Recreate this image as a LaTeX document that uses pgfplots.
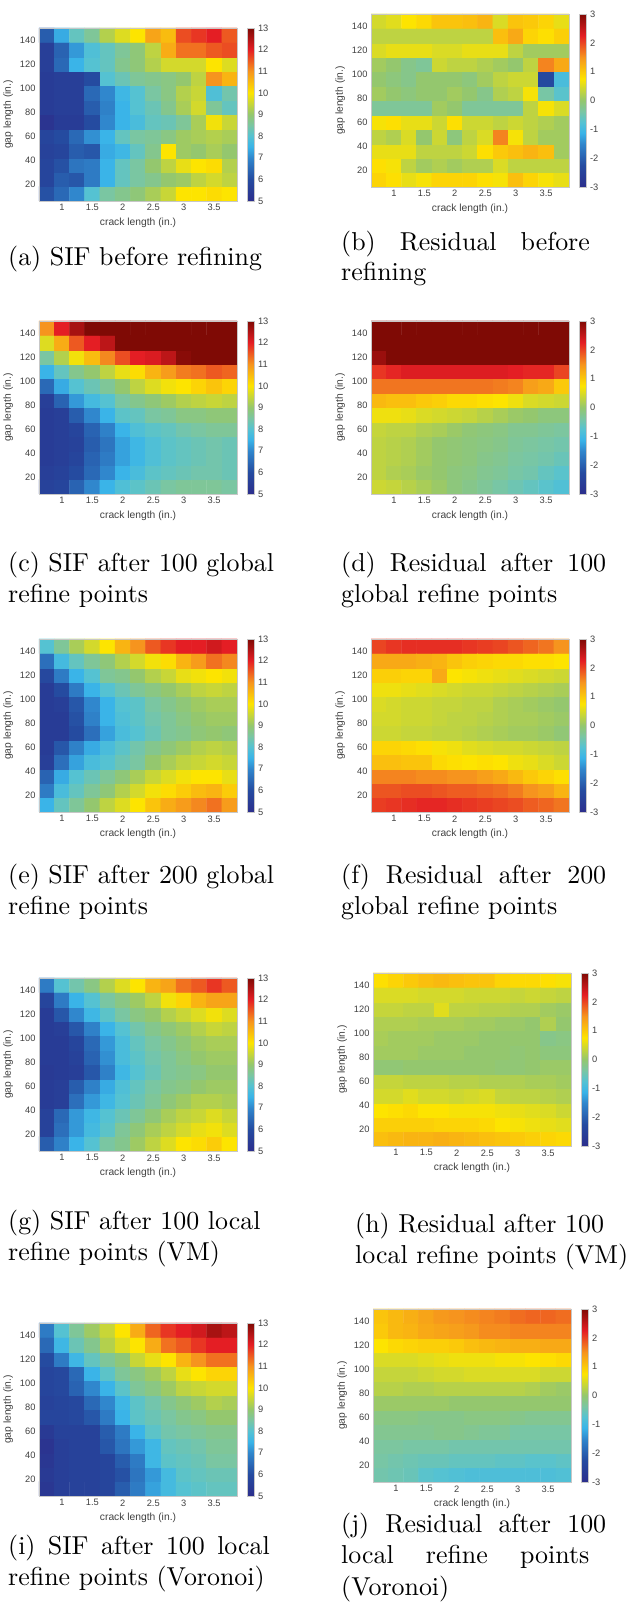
\documentclass[border=0pt]{standalone}
\usepackage{fontspec}
\usepackage{graphicx}
\usepackage{pgfplots}
\usepackage{pgfplotstable}
\pgfplotsset{compat=1.18}
\newfontfamily\arial{Liberation Sans}
\definecolor{tickgray}{RGB}{64,64,64}
\newcommand\tickfont{\arial\fontsize{9.3bp}{11bp}\selectfont}
\newcommand\labfont{\arial\fontsize{10.3bp}{12bp}\selectfont}
\newcommand\cp[1]{\scalebox{2.6}{#1}}
\pgfplotsset{
  /pgf/number format/assume math mode=true,
  colormap={sjet}{rgb255(0)=(44,46,140) rgb255(2)=(37,75,160) rgb255(4)=(48,135,205) rgb255(5)=(58,180,232) rgb255(6)=(85,194,210) rgb255(7)=(122,198,162) rgb255(8)=(148,199,110) rgb255(9)=(200,214,55) rgb255(10)=(253,228,0) rgb255(12)=(246,148,30) rgb255(14)=(228,30,36) rgb255(16)=(127,10,5)},
  hm/.style={
    scale only axis, width=198bp, height=173bp, anchor=south west,
    xmin=0.625, xmax=3.875, ymin=6, ymax=150, enlargelimits=false,
    xtick={1,1.5,2,2.5,3,3.5}, ytick={20,40,60,80,100,120,140},
    tick style={draw=none}, major tick length=0pt,
    axis line style={draw=black!22, line width=0.5pt},
    axis on top,
    tick label style={font=\tickfont, text=tickgray},
    xlabel={crack length (in.)}, ylabel={gap length (in.)},
    label style={font=\labfont, text=tickgray},
    colormap name=sjet, colorbar,
    colorbar style={at={(parent axis.north east)}, anchor=north west, xshift=2bp, width=7bp,
      tick style={draw=none}, major tick length=0pt, axis line style={draw=black!22},
      yticklabel style={font=\tickfont, text=tickgray}},
  },
  sif/.style={hm, point meta min=5, point meta max=13, colorbar style={ytick={5,6,7,8,9,10,11,12,13}}},
  res/.style={hm, point meta min=-3, point meta max=3, colorbar style={ytick={-3,-2,-1,0,1,2,3}}},
  hmp/.style={matrix plot*, mesh/cols=13, point meta=explicit},
}
% ---------------- (a)
\pgfplotstableread[row sep=\\]{
x y c\\
0.75 12 6.1\\ 1 12 6.5\\ 1.25 12 7.0\\ 1.5 12 8.0\\ 1.75 12 8.5\\ 2 12 8.7\\ 2.25 12 8.9\\ 2.5 12 9.2\\ 2.75 12 9.5\\ 3 12 10.0\\ 3.25 12 10.0\\ 3.5 12 10.1\\ 3.75 12 10.0\\
0.75 24 5.8\\ 1 24 6.3\\ 1.25 24 6.2\\ 1.5 24 6.8\\ 1.75 24 7.5\\ 2 24 8.2\\ 2.25 24 8.5\\ 2.5 24 8.7\\ 2.75 24 9.0\\ 3 24 9.1\\ 3.25 24 9.4\\ 3.5 24 9.6\\ 3.75 24 9.4\\
0.75 36 5.8\\ 1 36 6.1\\ 1.25 36 6.7\\ 1.5 36 6.8\\ 1.75 36 7.5\\ 2 36 8.2\\ 2.25 36 8.5\\ 2.5 36 9.0\\ 2.75 36 9.4\\ 3 36 9.8\\ 3.25 36 10.0\\ 3.5 36 10.1\\ 3.75 36 9.3\\
0.75 48 5.7\\ 1 48 5.8\\ 1.25 48 6.3\\ 1.5 48 6.2\\ 1.75 48 7.4\\ 2 48 7.6\\ 2.25 48 8.2\\ 2.5 48 8.7\\ 2.75 48 10.0\\ 3 48 9.1\\ 3.25 48 9.0\\ 3.5 48 9.2\\ 3.75 48 9.0\\
0.75 60 5.8\\ 1 60 6.0\\ 1.25 60 6.5\\ 1.5 60 7.1\\ 1.75 60 7.5\\ 2 60 8.2\\ 2.25 60 8.5\\ 2.5 60 8.6\\ 2.75 60 8.8\\ 3 60 9.1\\ 3.25 60 9.2\\ 3.5 60 9.3\\ 3.75 60 9.2\\
0.75 72 5.2\\ 1 72 5.5\\ 1.25 72 5.5\\ 1.5 72 6.0\\ 1.75 72 7.0\\ 2 72 7.5\\ 2.25 72 7.8\\ 2.5 72 8.2\\ 2.75 72 8.3\\ 3 72 8.6\\ 3.25 72 9.2\\ 3.5 72 9.9\\ 3.75 72 9.5\\
0.75 84 5.5\\ 1 84 5.6\\ 1.25 84 5.6\\ 1.5 84 6.3\\ 1.75 84 6.9\\ 2 84 7.5\\ 2.25 84 8.0\\ 2.5 84 8.3\\ 2.75 84 8.7\\ 3 84 9.2\\ 3.25 84 9.6\\ 3.5 84 8.6\\ 3.75 84 8.2\\
0.75 96 5.5\\ 1 96 5.6\\ 1.25 96 5.6\\ 1.5 96 6.5\\ 1.75 96 7.0\\ 2 96 7.6\\ 2.25 96 8.0\\ 2.5 96 8.5\\ 2.75 96 8.8\\ 3 96 9.3\\ 3.25 96 9.5\\ 3.5 96 7.9\\ 3.75 96 8.4\\
0.75 108 5.5\\ 1 108 5.6\\ 1.25 108 5.6\\ 1.5 108 6.0\\ 1.75 108 8.0\\ 2 108 8.3\\ 2.25 108 8.6\\ 2.5 108 8.7\\ 2.75 108 8.8\\ 3 108 9.0\\ 3.25 108 9.4\\ 3.5 108 11.0\\ 3.75 108 10.6\\
0.75 120 5.6\\ 1 120 6.5\\ 1.25 120 7.5\\ 1.5 120 8.0\\ 1.75 120 8.2\\ 2 120 8.7\\ 2.25 120 8.9\\ 2.5 120 9.3\\ 2.75 120 9.6\\ 3 120 9.6\\ 3.25 120 9.6\\ 3.5 120 10.0\\ 3.75 120 9.7\\
0.75 132 5.6\\ 1 132 6.4\\ 1.25 132 7.2\\ 1.5 132 7.9\\ 1.75 132 8.2\\ 2 132 8.6\\ 2.25 132 8.9\\ 2.5 132 9.4\\ 2.75 132 10.7\\ 3 132 11.3\\ 3.25 132 11.3\\ 3.5 132 11.5\\ 3.75 132 11.6\\
0.75 144 6.3\\ 1 144 7.4\\ 1.25 144 8.2\\ 1.5 144 8.6\\ 1.75 144 9.3\\ 2 144 9.7\\ 2.25 144 10.0\\ 2.5 144 10.8\\ 2.75 144 10.5\\ 3 144 11.6\\ 3.25 144 11.8\\ 3.5 144 12.0\\ 3.75 144 11.5\\
}\tA
% ---------------- (b)
\pgfplotstableread[row sep=\\]{
x y c\\
0.75 12 0.9\\ 1 12 0.8\\ 1.25 12 0.6\\ 1.5 12 0.7\\ 1.75 12 0.9\\ 2 12 0.9\\ 2.25 12 0.9\\ 2.5 12 0.8\\ 2.75 12 0.7\\ 3 12 1.1\\ 3.25 12 0.9\\ 3.5 12 0.7\\ 3.75 12 0.6\\
0.75 24 0.8\\ 1 24 0.7\\ 1.25 24 0.3\\ 1.5 24 0.1\\ 1.75 24 0.2\\ 2 24 0.1\\ 2.25 24 0.2\\ 2.5 24 0.2\\ 2.75 24 0.5\\ 3 24 0.3\\ 3.25 24 0.3\\ 3.5 24 0.3\\ 3.75 24 0.3\\
0.75 36 0.6\\ 1 36 0.6\\ 1.25 36 0.6\\ 1.5 36 0.3\\ 1.75 36 0.3\\ 2 36 0.3\\ 2.25 36 0.4\\ 2.5 36 0.8\\ 2.75 36 1.0\\ 3 36 1.1\\ 3.25 36 1.2\\ 3.5 36 1.1\\ 3.75 36 0.1\\
0.75 48 0.3\\ 1 48 0.2\\ 1.25 48 0.5\\ 1.5 48 0.0\\ 1.75 48 0.4\\ 2 48 -0.1\\ 2.25 48 0.3\\ 2.5 48 0.5\\ 2.75 48 1.6\\ 3 48 0.7\\ 3.25 48 0.3\\ 3.5 48 0.1\\ 3.75 48 0.1\\
0.75 60 0.7\\ 1 60 0.8\\ 1.25 60 0.6\\ 1.5 60 0.6\\ 1.75 60 0.4\\ 2 60 0.8\\ 2.25 60 0.4\\ 2.5 60 0.4\\ 2.75 60 0.3\\ 3 60 0.4\\ 3.25 60 0.3\\ 3.5 60 0.2\\ 3.75 60 0.1\\
0.75 72 -0.3\\ 1 72 -0.3\\ 1.25 72 -0.3\\ 1.5 72 -0.3\\ 1.75 72 0.1\\ 2 72 0.0\\ 2.25 72 -0.3\\ 2.5 72 -0.3\\ 2.75 72 -0.3\\ 3 72 -0.3\\ 3.25 72 0.3\\ 3.5 72 0.7\\ 3.75 72 0.5\\
0.75 84 0.1\\ 1 84 0.0\\ 1.25 84 -0.1\\ 1.5 84 0.0\\ 1.75 84 0.0\\ 2 84 0.1\\ 2.25 84 0.0\\ 2.5 84 -0.2\\ 2.75 84 0.2\\ 3 84 0.3\\ 3.25 84 0.7\\ 3.5 84 -0.4\\ 3.75 84 -0.7\\
0.75 96 0.0\\ 1 96 -0.1\\ 1.25 96 -0.2\\ 1.5 96 0.0\\ 1.75 96 0.0\\ 2 96 0.0\\ 2.25 96 -0.1\\ 2.5 96 0.1\\ 2.75 96 0.3\\ 3 96 0.4\\ 3.25 96 0.4\\ 3.5 96 -2.3\\ 3.75 96 -0.9\\
0.75 108 0.1\\ 1 108 0.0\\ 1.25 108 -0.2\\ 1.5 108 -0.3\\ 1.75 108 0.4\\ 2 108 0.3\\ 2.25 108 0.3\\ 2.5 108 0.2\\ 2.75 108 0.1\\ 3 108 0.0\\ 3.25 108 0.3\\ 3.5 108 1.6\\ 3.75 108 1.3\\
0.75 120 0.5\\ 1 120 0.6\\ 1.25 120 0.6\\ 1.5 120 0.6\\ 1.75 120 0.5\\ 2 120 0.5\\ 2.25 120 0.6\\ 2.5 120 0.6\\ 2.75 120 0.6\\ 3 120 0.3\\ 3.25 120 0.1\\ 3.5 120 0.1\\ 3.75 120 0.1\\
0.75 132 0.3\\ 1 132 0.3\\ 1.25 132 0.3\\ 1.5 132 0.3\\ 1.75 132 0.3\\ 2 132 0.3\\ 2.25 132 0.3\\ 2.5 132 0.3\\ 2.75 132 1.1\\ 3 132 1.3\\ 3.25 132 0.9\\ 3.5 132 0.8\\ 3.75 132 0.95\\
0.75 144 0.45\\ 1 144 0.55\\ 1.25 144 0.75\\ 1.5 144 0.85\\ 1.75 144 1.05\\ 2 144 1.05\\ 2.25 144 1.1\\ 2.5 144 1.2\\ 2.75 144 0.5\\ 3 144 1.05\\ 3.25 144 1.0\\ 3.5 144 0.9\\ 3.75 144 0.6\\
}\tB
% ---------------- (c)
\pgfplotstableread[row sep=\\]{
x y c\\
0.75 12 5.7\\ 1 12 5.8\\ 1.25 12 6.4\\ 1.5 12 7.0\\ 1.75 12 7.5\\ 2 12 7.9\\ 2.25 12 8.1\\ 2.5 12 8.3\\ 2.75 12 8.5\\ 3 12 8.6\\ 3.25 12 8.6\\ 3.5 12 8.6\\ 3.75 12 8.5\\
0.75 24 5.6\\ 1 24 5.7\\ 1.25 24 6.0\\ 1.5 24 6.5\\ 1.75 24 7.0\\ 2 24 7.5\\ 2.25 24 7.8\\ 2.5 24 8.1\\ 2.75 24 8.2\\ 3 24 8.3\\ 3.25 24 8.4\\ 3.5 24 8.4\\ 3.75 24 8.3\\
0.75 36 5.5\\ 1 36 5.6\\ 1.25 36 5.8\\ 1.5 36 6.4\\ 1.75 36 6.8\\ 2 36 7.3\\ 2.25 36 7.6\\ 2.5 36 7.9\\ 2.75 36 8.1\\ 3 36 8.2\\ 3.25 36 8.3\\ 3.5 36 8.4\\ 3.75 36 8.3\\
0.75 48 5.5\\ 1 48 5.6\\ 1.25 48 5.7\\ 1.5 48 6.3\\ 1.75 48 6.7\\ 2 48 7.3\\ 2.25 48 7.6\\ 2.5 48 7.9\\ 2.75 48 8.1\\ 3 48 8.2\\ 3.25 48 8.3\\ 3.5 48 8.4\\ 3.75 48 8.3\\
0.75 60 5.5\\ 1 60 5.6\\ 1.25 60 5.8\\ 1.5 60 6.4\\ 1.75 60 6.9\\ 2 60 7.5\\ 2.25 60 7.9\\ 2.5 60 8.1\\ 2.75 60 8.2\\ 3 60 8.4\\ 3.25 60 8.5\\ 3.5 60 8.6\\ 3.75 60 8.6\\
0.75 72 5.5\\ 1 72 5.6\\ 1.25 72 6.3\\ 1.5 72 7.0\\ 1.75 72 7.5\\ 2 72 8.1\\ 2.25 72 8.2\\ 2.5 72 8.5\\ 2.75 72 8.6\\ 3 72 8.8\\ 3.25 72 8.8\\ 3.5 72 8.9\\ 3.75 72 8.9\\
0.75 84 5.6\\ 1 84 6.4\\ 1.25 84 7.2\\ 1.5 84 7.7\\ 1.75 84 8.0\\ 2 84 8.5\\ 2.25 84 8.7\\ 2.5 84 8.9\\ 2.75 84 9.1\\ 3 84 9.3\\ 3.25 84 9.4\\ 3.5 84 9.5\\ 3.75 84 9.4\\
0.75 96 6.5\\ 1 96 7.4\\ 1.25 96 8.0\\ 1.5 96 8.3\\ 1.75 96 8.6\\ 2 96 9.0\\ 2.25 96 9.4\\ 2.5 96 9.7\\ 2.75 96 9.9\\ 3 96 10.0\\ 3.25 96 10.2\\ 3.5 96 10.4\\ 3.75 96 10.2\\
0.75 108 7.5\\ 1 108 8.2\\ 1.25 108 8.7\\ 1.5 108 9.0\\ 1.75 108 9.4\\ 2 108 9.8\\ 2.25 108 10.1\\ 2.5 108 10.6\\ 2.75 108 10.9\\ 3 108 11.2\\ 3.25 108 11.3\\ 3.5 108 11.5\\ 3.75 108 11.4\\
0.75 120 8.5\\ 1 120 9.3\\ 1.25 120 9.9\\ 1.5 120 10.5\\ 1.75 120 11.1\\ 2 120 11.6\\ 2.25 120 12.0\\ 2.5 120 12.1\\ 2.75 120 12.4\\ 3 120 12.9\\ 3.25 120 13.2\\ 3.5 120 13.2\\ 3.75 120 13.2\\
0.75 132 9.7\\ 1 132 10.7\\ 1.25 132 11.5\\ 1.5 132 12.0\\ 1.75 132 12.4\\ 2 132 13.2\\ 2.25 132 13.2\\ 2.5 132 13.2\\ 2.75 132 13.2\\ 3 132 13.2\\ 3.25 132 13.2\\ 3.5 132 13.2\\ 3.75 132 13.2\\
0.75 144 11.0\\ 1 144 12.0\\ 1.25 144 12.6\\ 1.5 144 13.2\\ 1.75 144 13.2\\ 2 144 13.2\\ 2.25 144 13.2\\ 2.5 144 13.2\\ 2.75 144 13.2\\ 3 144 13.2\\ 3.25 144 13.2\\ 3.5 144 13.2\\ 3.75 144 13.2\\
}\tC
% ---------------- (d)
\pgfplotstableread[row sep=\\]{
x y c\\
0.75 12 0.4\\ 1 12 0.35\\ 1.25 12 0.25\\ 1.5 12 0.15\\ 1.75 12 0.05\\ 2 12 -0.1\\ 2.25 12 -0.2\\ 2.5 12 -0.3\\ 2.75 12 -0.4\\ 3 12 -0.5\\ 3.25 12 -0.6\\ 3.5 12 -0.7\\ 3.75 12 -0.8\\
0.75 24 0.3\\ 1 24 0.2\\ 1.25 24 0.15\\ 1.5 24 0.05\\ 1.75 24 0.0\\ 2 24 -0.1\\ 2.25 24 -0.15\\ 2.5 24 -0.25\\ 2.75 24 -0.3\\ 3 24 -0.4\\ 3.25 24 -0.45\\ 3.5 24 -0.6\\ 3.75 24 -0.7\\
0.75 36 0.3\\ 1 36 0.25\\ 1.25 36 0.2\\ 1.5 36 0.1\\ 1.75 36 0.0\\ 2 36 -0.05\\ 2.25 36 -0.1\\ 2.5 36 -0.2\\ 2.75 36 -0.25\\ 3 36 -0.35\\ 3.25 36 -0.4\\ 3.5 36 -0.45\\ 3.75 36 -0.55\\
0.75 48 0.3\\ 1 48 0.25\\ 1.25 48 0.2\\ 1.5 48 0.1\\ 1.75 48 0.0\\ 2 48 -0.05\\ 2.25 48 -0.1\\ 2.5 48 -0.15\\ 2.75 48 -0.2\\ 3 48 -0.3\\ 3.25 48 -0.35\\ 3.5 48 -0.4\\ 3.75 48 -0.45\\
0.75 60 0.35\\ 1 60 0.3\\ 1.25 60 0.3\\ 1.5 60 0.2\\ 1.75 60 0.15\\ 2 60 0.05\\ 2.25 60 -0.05\\ 2.5 60 -0.1\\ 2.75 60 -0.15\\ 3 60 -0.25\\ 3.25 60 -0.25\\ 3.5 60 -0.3\\ 3.75 60 -0.35\\
0.75 72 0.65\\ 1 72 0.65\\ 1.25 72 0.6\\ 1.5 72 0.5\\ 1.75 72 0.45\\ 2 72 0.4\\ 2.25 72 0.35\\ 2.5 72 0.25\\ 2.75 72 0.15\\ 3 72 0.05\\ 3.25 72 0.0\\ 3.5 72 -0.1\\ 3.75 72 -0.1\\
0.75 84 1.15\\ 1 84 1.1\\ 1.25 84 1.1\\ 1.5 84 1.0\\ 1.75 84 0.95\\ 2 84 0.85\\ 2.25 84 0.85\\ 2.5 84 0.8\\ 2.75 84 0.75\\ 3 84 0.65\\ 3.25 84 0.5\\ 3.5 84 0.45\\ 3.75 84 0.4\\
0.75 96 1.7\\ 1 96 1.7\\ 1.25 96 1.7\\ 1.5 96 1.7\\ 1.75 96 1.7\\ 2 96 1.7\\ 2.25 96 1.7\\ 2.5 96 1.7\\ 2.75 96 1.65\\ 3 96 1.6\\ 3.25 96 1.4\\ 3.5 96 1.3\\ 3.75 96 1.0\\
0.75 108 2.1\\ 1 108 2.2\\ 1.25 108 2.3\\ 1.5 108 2.3\\ 1.75 108 2.3\\ 2 108 2.3\\ 2.25 108 2.3\\ 2.5 108 2.3\\ 2.75 108 2.3\\ 3 108 2.25\\ 3.25 108 2.2\\ 3.5 108 2.2\\ 3.75 108 2.0\\
0.75 120 2.8\\ 1 120 3.2\\ 1.25 120 3.2\\ 1.5 120 3.2\\ 1.75 120 3.2\\ 2 120 3.2\\ 2.25 120 3.2\\ 2.5 120 3.2\\ 2.75 120 3.2\\ 3 120 3.2\\ 3.25 120 3.2\\ 3.5 120 3.2\\ 3.75 120 3.2\\
0.75 132 3.2\\ 1 132 3.2\\ 1.25 132 3.2\\ 1.5 132 3.2\\ 1.75 132 3.2\\ 2 132 3.2\\ 2.25 132 3.2\\ 2.5 132 3.2\\ 2.75 132 3.2\\ 3 132 3.2\\ 3.25 132 3.2\\ 3.5 132 3.2\\ 3.75 132 3.2\\
0.75 144 3.2\\ 1 144 3.2\\ 1.25 144 3.2\\ 1.5 144 3.2\\ 1.75 144 3.2\\ 2 144 3.2\\ 2.25 144 3.2\\ 2.5 144 3.2\\ 2.75 144 3.2\\ 3 144 3.2\\ 3.25 144 3.2\\ 3.5 144 3.2\\ 3.75 144 3.2\\
}\tD
% ---------------- (e)
\pgfplotstableread[row sep=\\]{
x y c\\
0.75 12 7.5\\ 1 12 8.2\\ 1.25 12 8.6\\ 1.5 12 9.0\\ 1.75 12 9.4\\ 2 12 9.7\\ 2.25 12 10.0\\ 2.5 12 10.4\\ 2.75 12 10.7\\ 3 12 10.9\\ 3.25 12 11.1\\ 3.5 12 11.3\\ 3.75 12 10.9\\
0.75 24 6.8\\ 1 24 7.8\\ 1.25 24 8.2\\ 1.5 24 8.6\\ 1.75 24 8.9\\ 2 24 9.3\\ 2.25 24 9.6\\ 2.5 24 9.9\\ 2.75 24 10.1\\ 3 24 10.3\\ 3.25 24 10.5\\ 3.5 24 10.6\\ 3.75 24 10.3\\
0.75 36 6.4\\ 1 36 7.4\\ 1.25 36 8.0\\ 1.5 36 8.3\\ 1.75 36 8.6\\ 2 36 8.9\\ 2.25 36 9.2\\ 2.5 36 9.5\\ 2.75 36 9.7\\ 3 36 9.9\\ 3.25 36 10.0\\ 3.5 36 10.0\\ 3.75 36 9.8\\
0.75 48 5.6\\ 1 48 6.6\\ 1.25 48 7.3\\ 1.5 48 7.8\\ 1.75 48 8.0\\ 2 48 8.3\\ 2.25 48 8.5\\ 2.5 48 9.0\\ 2.75 48 9.2\\ 3 48 9.4\\ 3.25 48 9.5\\ 3.5 48 9.6\\ 3.75 48 9.5\\
0.75 60 5.5\\ 1 60 6.2\\ 1.25 60 6.9\\ 1.5 60 7.4\\ 1.75 60 7.8\\ 2 60 8.1\\ 2.25 60 8.4\\ 2.5 60 8.7\\ 2.75 60 8.9\\ 3 60 9.1\\ 3.25 60 9.3\\ 3.5 60 9.4\\ 3.75 60 9.3\\
0.75 72 5.5\\ 1 72 5.5\\ 1.25 72 6.0\\ 1.5 72 6.6\\ 1.75 72 7.3\\ 2 72 7.8\\ 2.25 72 8.0\\ 2.5 72 8.3\\ 2.75 72 8.6\\ 3 72 8.7\\ 3.25 72 8.9\\ 3.5 72 9.0\\ 3.75 72 8.9\\
0.75 84 5.5\\ 1 84 5.5\\ 1.25 84 6.1\\ 1.5 84 6.9\\ 1.75 84 7.5\\ 2 84 7.9\\ 2.25 84 8.1\\ 2.5 84 8.4\\ 2.75 84 8.6\\ 3 84 8.8\\ 3.25 84 9.0\\ 3.5 84 9.1\\ 3.75 84 9.1\\
0.75 96 5.5\\ 1 96 5.6\\ 1.25 96 6.2\\ 1.5 96 7.0\\ 1.75 96 7.5\\ 2 96 8.0\\ 2.25 96 8.1\\ 2.5 96 8.5\\ 2.75 96 8.7\\ 3 96 8.9\\ 3.25 96 9.1\\ 3.5 96 9.2\\ 3.75 96 9.2\\
0.75 108 5.5\\ 1 108 6.0\\ 1.25 108 6.8\\ 1.5 108 7.5\\ 1.75 108 8.0\\ 2 108 8.3\\ 2.25 108 8.6\\ 2.5 108 8.8\\ 2.75 108 9.0\\ 3 108 9.2\\ 3.25 108 9.4\\ 3.5 108 9.5\\ 3.75 108 9.4\\
0.75 120 5.9\\ 1 120 6.8\\ 1.25 120 7.5\\ 1.5 120 8.0\\ 1.75 120 8.6\\ 2 120 8.7\\ 2.25 120 9.0\\ 2.5 120 9.3\\ 2.75 120 9.5\\ 3 120 9.8\\ 3.25 120 9.9\\ 3.5 120 10.0\\ 3.75 120 9.9\\
0.75 132 6.6\\ 1 132 7.7\\ 1.25 132 8.2\\ 1.5 132 8.6\\ 1.75 132 8.9\\ 2 132 9.3\\ 2.25 132 9.6\\ 2.5 132 9.9\\ 2.75 132 10.1\\ 3 132 10.6\\ 3.25 132 10.9\\ 3.5 132 11.3\\ 3.75 132 11.1\\
0.75 144 8.0\\ 1 144 8.6\\ 1.25 144 9.2\\ 1.5 144 9.6\\ 1.75 144 10.0\\ 2 144 10.6\\ 2.25 144 11.0\\ 2.5 144 11.5\\ 2.75 144 11.8\\ 3 144 12.0\\ 3.25 144 12.0\\ 3.5 144 12.2\\ 3.75 144 12.0\\
}\tE
% ---------------- (f)
\pgfplotstableread[row sep=\\]{
x y c\\
0.75 12 2.05\\ 1 12 2.1\\ 1.25 12 2.15\\ 1.5 12 2.2\\ 1.75 12 2.2\\ 2 12 2.15\\ 2.25 12 2.1\\ 2.5 12 2.05\\ 2.75 12 2.0\\ 3 12 1.95\\ 3.25 12 1.85\\ 3.5 12 1.8\\ 3.75 12 1.7\\
0.75 24 1.9\\ 1 24 1.9\\ 1.25 24 1.95\\ 1.5 24 1.95\\ 1.75 24 1.9\\ 2 24 1.85\\ 2.25 24 1.85\\ 2.5 24 1.8\\ 2.75 24 1.75\\ 3 24 1.65\\ 3.25 24 1.5\\ 3.5 24 1.4\\ 3.75 24 1.2\\
0.75 36 1.6\\ 1 36 1.6\\ 1.25 36 1.6\\ 1.5 36 1.55\\ 1.75 36 1.55\\ 2 36 1.5\\ 2.25 36 1.5\\ 2.5 36 1.4\\ 2.75 36 1.3\\ 3 36 1.15\\ 3.25 36 1.0\\ 3.5 36 0.9\\ 3.75 36 0.8\\
0.75 48 1.1\\ 1 48 1.1\\ 1.25 48 1.05\\ 1.5 48 1.05\\ 1.75 48 0.85\\ 2 48 0.8\\ 2.25 48 0.75\\ 2.5 48 0.8\\ 2.75 48 0.75\\ 3 48 0.65\\ 3.25 48 0.6\\ 3.5 48 0.5\\ 3.75 48 0.4\\
0.75 60 0.9\\ 1 60 0.9\\ 1.25 60 0.85\\ 1.5 60 0.8\\ 1.75 60 0.7\\ 2 60 0.65\\ 2.25 60 0.55\\ 2.5 60 0.5\\ 2.75 60 0.45\\ 3 60 0.45\\ 3.25 60 0.4\\ 3.5 60 0.35\\ 3.75 60 0.3\\
0.75 72 0.4\\ 1 72 0.4\\ 1.25 72 0.35\\ 1.5 72 0.35\\ 1.75 72 0.3\\ 2 72 0.3\\ 2.25 72 0.25\\ 2.5 72 0.2\\ 2.75 72 0.15\\ 3 72 0.1\\ 3.25 72 0.1\\ 3.5 72 0.05\\ 3.75 72 -0.05\\
0.75 84 0.45\\ 1 84 0.45\\ 1.25 84 0.4\\ 1.5 84 0.4\\ 1.75 84 0.35\\ 2 84 0.3\\ 2.25 84 0.3\\ 2.5 84 0.25\\ 2.75 84 0.2\\ 3 84 0.15\\ 3.25 84 0.15\\ 3.5 84 0.1\\ 3.75 84 0.05\\
0.75 96 0.5\\ 1 96 0.45\\ 1.25 96 0.4\\ 1.5 96 0.4\\ 1.75 96 0.35\\ 2 96 0.35\\ 2.25 96 0.3\\ 2.5 96 0.3\\ 2.75 96 0.2\\ 3 96 0.15\\ 3.25 96 0.1\\ 3.5 96 0.05\\ 3.75 96 0.0\\
0.75 108 0.65\\ 1 108 0.65\\ 1.25 108 0.6\\ 1.5 108 0.55\\ 1.75 108 0.5\\ 2 108 0.45\\ 2.25 108 0.4\\ 2.5 108 0.4\\ 2.75 108 0.35\\ 3 108 0.3\\ 3.25 108 0.25\\ 3.5 108 0.2\\ 3.75 108 0.15\\
0.75 120 0.95\\ 1 120 0.95\\ 1.25 120 0.9\\ 1.5 120 0.9\\ 1.75 120 1.3\\ 2 120 0.75\\ 2.25 120 0.7\\ 2.5 120 0.65\\ 2.75 120 0.6\\ 3 120 0.55\\ 3.25 120 0.5\\ 3.5 120 0.45\\ 3.75 120 0.4\\
0.75 132 1.3\\ 1 132 1.3\\ 1.25 132 1.3\\ 1.5 132 1.25\\ 1.75 132 1.2\\ 2 132 1.05\\ 2.25 132 0.95\\ 2.5 132 0.9\\ 2.75 132 0.85\\ 3 132 0.85\\ 3.25 132 0.8\\ 3.5 132 0.8\\ 3.75 132 0.75\\
0.75 144 2.0\\ 1 144 2.1\\ 1.25 144 2.15\\ 1.5 144 2.15\\ 1.75 144 2.15\\ 2 144 2.15\\ 2.25 144 2.1\\ 2.5 144 2.05\\ 2.75 144 2.0\\ 3 144 1.9\\ 3.25 144 1.8\\ 3.5 144 1.7\\ 3.75 144 1.5\\
}\tF
% ---------------- (g)
\pgfplotstableread[row sep=\\]{
x y c\\
0.75 12 6.3\\ 1 12 6.9\\ 1.25 12 7.5\\ 1.5 12 8.0\\ 1.75 12 8.5\\ 2 12 8.7\\ 2.25 12 9.1\\ 2.5 12 9.4\\ 2.75 12 9.7\\ 3 12 10.0\\ 3.25 12 10.1\\ 3.5 12 10.3\\ 3.75 12 10.0\\
0.75 24 5.7\\ 1 24 6.6\\ 1.25 24 7.2\\ 1.5 24 7.7\\ 1.75 24 8.1\\ 2 24 8.6\\ 2.25 24 8.9\\ 2.5 24 9.2\\ 2.75 24 9.4\\ 3 24 9.6\\ 3.25 24 9.8\\ 3.5 24 9.9\\ 3.75 24 9.7\\
0.75 36 5.7\\ 1 36 6.5\\ 1.25 36 7.2\\ 1.5 36 7.6\\ 1.75 36 8.0\\ 2 36 8.3\\ 2.25 36 8.6\\ 2.5 36 8.9\\ 2.75 36 9.2\\ 3 36 9.4\\ 3.25 36 9.5\\ 3.5 36 9.7\\ 3.75 36 9.5\\
0.75 48 5.5\\ 1 48 5.6\\ 1.25 48 6.6\\ 1.5 48 7.2\\ 1.75 48 7.6\\ 2 48 8.0\\ 2.25 48 8.3\\ 2.5 48 8.6\\ 2.75 48 8.9\\ 3 48 9.1\\ 3.25 48 9.3\\ 3.5 48 9.3\\ 3.75 48 9.2\\
0.75 60 5.5\\ 1 60 5.6\\ 1.25 60 6.3\\ 1.5 60 6.9\\ 1.75 60 7.4\\ 2 60 7.9\\ 2.25 60 8.2\\ 2.5 60 8.5\\ 2.75 60 8.7\\ 3 60 8.8\\ 3.25 60 9.0\\ 3.5 60 9.1\\ 3.75 60 9.1\\
0.75 72 5.4\\ 1 72 5.5\\ 1.25 72 5.6\\ 1.5 72 6.2\\ 1.75 72 6.9\\ 2 72 7.6\\ 2.25 72 8.0\\ 2.5 72 8.3\\ 2.75 72 8.6\\ 3 72 8.7\\ 3.25 72 8.8\\ 3.5 72 9.0\\ 3.75 72 9.0\\
0.75 84 5.5\\ 1 84 5.5\\ 1.25 84 5.7\\ 1.5 84 6.4\\ 1.75 84 7.1\\ 2 84 7.8\\ 2.25 84 8.1\\ 2.5 84 8.4\\ 2.75 84 8.6\\ 3 84 8.8\\ 3.25 84 9.0\\ 3.5 84 9.1\\ 3.75 84 9.1\\
0.75 96 5.5\\ 1 96 5.5\\ 1.25 96 5.8\\ 1.5 96 6.5\\ 1.75 96 7.2\\ 2 96 7.8\\ 2.25 96 8.2\\ 2.5 96 8.5\\ 2.75 96 8.7\\ 3 96 8.9\\ 3.25 96 9.1\\ 3.5 96 9.2\\ 3.75 96 9.2\\
0.75 108 5.5\\ 1 108 5.6\\ 1.25 108 6.2\\ 1.5 108 6.9\\ 1.75 108 7.5\\ 2 108 8.0\\ 2.25 108 8.4\\ 2.5 108 8.7\\ 2.75 108 8.9\\ 3 108 9.1\\ 3.25 108 9.3\\ 3.5 108 9.5\\ 3.75 108 9.4\\
0.75 120 5.5\\ 1 120 6.2\\ 1.25 120 7.0\\ 1.5 120 7.6\\ 1.75 120 8.1\\ 2 120 8.5\\ 2.25 120 8.8\\ 2.5 120 9.0\\ 2.75 120 9.3\\ 3 120 9.5\\ 3.25 120 9.7\\ 3.5 120 9.9\\ 3.75 120 9.7\\
0.75 132 5.8\\ 1 132 6.8\\ 1.25 132 7.5\\ 1.5 132 8.0\\ 1.75 132 8.5\\ 2 132 8.8\\ 2.25 132 9.1\\ 2.5 132 9.4\\ 2.75 132 9.9\\ 3 132 10.2\\ 3.25 132 10.6\\ 3.5 132 10.8\\ 3.75 132 10.8\\
0.75 144 6.8\\ 1 144 8.0\\ 1.25 144 8.4\\ 1.5 144 8.8\\ 1.75 144 9.3\\ 2 144 9.7\\ 2.25 144 10.0\\ 2.5 144 10.6\\ 2.75 144 10.8\\ 3 144 11.3\\ 3.25 144 11.5\\ 3.5 144 11.8\\ 3.75 144 11.5\\
}\tG
% ---------------- (h)
\pgfplotstableread[row sep=\\]{
x y c\\
0.75 12 1.1\\ 1 12 1.15\\ 1.25 12 1.2\\ 1.5 12 1.2\\ 1.75 12 1.25\\ 2 12 1.2\\ 2.25 12 1.15\\ 2.5 12 1.1\\ 2.75 12 1.05\\ 3 12 1.0\\ 3.25 12 0.95\\ 3.5 12 0.9\\ 3.75 12 0.85\\
0.75 24 0.95\\ 1 24 0.95\\ 1.25 24 0.95\\ 1.5 24 0.95\\ 1.75 24 0.9\\ 2 24 0.9\\ 2.25 24 0.9\\ 2.5 24 0.85\\ 2.75 24 0.75\\ 3 24 0.7\\ 3.25 24 0.65\\ 3.5 24 0.6\\ 3.75 24 0.55\\
0.75 36 0.75\\ 1 36 0.8\\ 1.25 36 0.85\\ 1.5 36 0.75\\ 1.75 36 0.75\\ 2 36 0.7\\ 2.25 36 0.7\\ 2.5 36 0.7\\ 2.75 36 0.65\\ 3 36 0.6\\ 3.25 36 0.55\\ 3.5 36 0.5\\ 3.75 36 0.4\\
0.75 48 0.45\\ 1 48 0.45\\ 1.25 48 0.55\\ 1.5 48 0.45\\ 1.75 48 0.45\\ 2 48 0.4\\ 2.25 48 0.45\\ 2.5 48 0.5\\ 2.75 48 0.35\\ 3 48 0.3\\ 3.25 48 0.3\\ 3.5 48 0.25\\ 3.75 48 0.2\\
0.75 60 0.35\\ 1 60 0.35\\ 1.25 60 0.3\\ 1.5 60 0.3\\ 1.75 60 0.3\\ 2 60 0.25\\ 2.25 60 0.25\\ 2.5 60 0.2\\ 2.75 60 0.2\\ 3 60 0.2\\ 3.25 60 0.15\\ 3.5 60 0.15\\ 3.75 60 0.1\\
0.75 72 -0.05\\ 1 72 -0.05\\ 1.25 72 0.0\\ 1.5 72 0.0\\ 1.75 72 0.0\\ 2 72 0.0\\ 2.25 72 0.0\\ 2.5 72 0.0\\ 2.75 72 -0.05\\ 3 72 -0.05\\ 3.25 72 0.0\\ 3.5 72 0.05\\ 3.75 72 0.05\\
0.75 84 0.1\\ 1 84 0.1\\ 1.25 84 0.1\\ 1.5 84 0.05\\ 1.75 84 0.05\\ 2 84 0.05\\ 2.25 84 0.0\\ 2.5 84 0.0\\ 2.75 84 0.0\\ 3 84 -0.05\\ 3.25 84 0.0\\ 3.5 84 -0.1\\ 3.75 84 -0.1\\
0.75 96 0.15\\ 1 96 0.1\\ 1.25 96 0.1\\ 1.5 96 0.1\\ 1.75 96 0.05\\ 2 96 0.05\\ 2.25 96 0.05\\ 2.5 96 0.0\\ 2.75 96 0.0\\ 3 96 0.0\\ 3.25 96 0.0\\ 3.5 96 -0.2\\ 3.75 96 -0.15\\
0.75 108 0.2\\ 1 108 0.2\\ 1.25 108 0.2\\ 1.5 108 0.15\\ 1.75 108 0.15\\ 2 108 0.15\\ 2.25 108 0.1\\ 2.5 108 0.1\\ 2.75 108 0.05\\ 3 108 0.05\\ 3.25 108 0.0\\ 3.5 108 0.2\\ 3.75 108 0.0\\
0.75 120 0.35\\ 1 120 0.35\\ 1.25 120 0.3\\ 1.5 120 0.3\\ 1.75 120 0.55\\ 2 120 0.3\\ 2.25 120 0.3\\ 2.5 120 0.25\\ 2.75 120 0.25\\ 3 120 0.2\\ 3.25 120 0.2\\ 3.5 120 0.1\\ 3.75 120 0.05\\
0.75 132 0.5\\ 1 132 0.5\\ 1.25 132 0.5\\ 1.5 132 0.45\\ 1.75 132 0.45\\ 2 132 0.45\\ 2.25 132 0.4\\ 2.5 132 0.4\\ 2.75 132 0.4\\ 3 132 0.35\\ 3.25 132 0.4\\ 3.5 132 0.35\\ 3.75 132 0.3\\
0.75 144 0.8\\ 1 144 0.9\\ 1.25 144 1.0\\ 1.5 144 1.1\\ 1.75 144 1.15\\ 2 144 1.1\\ 2.25 144 1.05\\ 2.5 144 1.05\\ 2.75 144 0.9\\ 3 144 0.85\\ 3.25 144 0.85\\ 3.5 144 0.8\\ 3.75 144 0.7\\
}\tH
% ---------------- (i)
\pgfplotstableread[row sep=\\]{
x y c\\
0.75 12 5.3\\ 1 12 5.6\\ 1.25 12 5.7\\ 1.5 12 5.7\\ 1.75 12 5.8\\ 2 12 6.3\\ 2.25 12 6.8\\ 2.5 12 7.3\\ 2.75 12 7.7\\ 3 12 8.0\\ 3.25 12 8.1\\ 3.5 12 8.2\\ 3.75 12 8.2\\
0.75 24 5.4\\ 1 24 5.6\\ 1.25 24 5.7\\ 1.5 24 5.7\\ 1.75 24 5.8\\ 2 24 6.1\\ 2.25 24 6.7\\ 2.5 24 7.2\\ 2.75 24 7.7\\ 3 24 8.1\\ 3.25 24 8.2\\ 3.5 24 8.3\\ 3.75 24 8.3\\
0.75 36 5.3\\ 1 36 5.6\\ 1.25 36 5.7\\ 1.5 36 5.7\\ 1.75 36 5.8\\ 2 36 6.3\\ 2.25 36 6.8\\ 2.5 36 7.6\\ 2.75 36 8.1\\ 3 36 8.2\\ 3.25 36 8.3\\ 3.5 36 8.5\\ 3.75 36 8.5\\
0.75 48 5.2\\ 1 48 5.6\\ 1.25 48 5.7\\ 1.5 48 5.7\\ 1.75 48 6.2\\ 2 48 6.7\\ 2.25 48 7.2\\ 2.5 48 7.6\\ 2.75 48 8.2\\ 3 48 8.3\\ 3.25 48 8.4\\ 3.5 48 8.6\\ 3.75 48 8.6\\
0.75 60 5.4\\ 1 60 5.7\\ 1.25 60 5.7\\ 1.5 60 5.7\\ 1.75 60 6.3\\ 2 60 6.8\\ 2.25 60 7.5\\ 2.5 60 8.1\\ 2.75 60 8.4\\ 3 60 8.5\\ 3.25 60 8.6\\ 3.5 60 8.7\\ 3.75 60 8.7\\
0.75 72 5.8\\ 1 72 5.8\\ 1.25 72 5.9\\ 1.5 72 6.2\\ 1.75 72 6.8\\ 2 72 7.5\\ 2.25 72 8.1\\ 2.5 72 8.3\\ 2.75 72 8.5\\ 3 72 8.7\\ 3.25 72 8.8\\ 3.5 72 9.0\\ 3.75 72 9.0\\
0.75 84 5.7\\ 1 84 5.8\\ 1.25 84 5.9\\ 1.5 84 6.5\\ 1.75 84 7.0\\ 2 84 7.6\\ 2.25 84 8.1\\ 2.5 84 8.4\\ 2.75 84 8.7\\ 3 84 8.9\\ 3.25 84 9.1\\ 3.5 84 9.3\\ 3.75 84 9.2\\
0.75 96 5.8\\ 1 96 5.9\\ 1.25 96 6.4\\ 1.5 96 7.0\\ 1.75 96 7.5\\ 2 96 8.1\\ 2.25 96 8.6\\ 2.5 96 8.8\\ 2.75 96 9.1\\ 3 96 9.4\\ 3.25 96 9.5\\ 3.5 96 9.6\\ 3.75 96 9.6\\
0.75 108 5.8\\ 1 108 5.9\\ 1.25 108 6.5\\ 1.5 108 7.5\\ 1.75 108 8.1\\ 2 108 8.6\\ 2.25 108 8.8\\ 2.5 108 9.1\\ 2.75 108 9.4\\ 3 108 9.8\\ 3.25 108 10.0\\ 3.5 108 10.2\\ 3.75 108 10.2\\
0.75 120 6.0\\ 1 120 6.8\\ 1.25 120 7.6\\ 1.5 120 8.2\\ 1.75 120 8.6\\ 2 120 8.9\\ 2.25 120 9.5\\ 2.5 120 9.8\\ 2.75 120 10.0\\ 3 120 10.6\\ 3.25 120 11.0\\ 3.5 120 11.3\\ 3.75 120 11.3\\
0.75 132 6.5\\ 1 132 7.6\\ 1.25 132 8.3\\ 1.5 132 8.7\\ 1.75 132 9.3\\ 2 132 9.7\\ 2.25 132 10.0\\ 2.5 132 10.7\\ 2.75 132 11.3\\ 3 132 11.5\\ 3.25 132 11.8\\ 3.5 132 12.0\\ 3.75 132 12.0\\
0.75 144 6.8\\ 1 144 8.0\\ 1.25 144 8.6\\ 1.5 144 9.1\\ 1.75 144 9.5\\ 2 144 10.0\\ 2.25 144 10.7\\ 2.5 144 11.4\\ 2.75 144 11.8\\ 3 144 12.0\\ 3.25 144 12.2\\ 3.5 144 12.6\\ 3.75 144 12.4\\
}\tI
% ---------------- (j)
\pgfplotstableread[row sep=\\]{
x y c\\
0.75 12 -0.45\\ 1 12 -0.5\\ 1.25 12 -0.55\\ 1.5 12 -0.7\\ 1.75 12 -0.75\\ 2 12 -0.8\\ 2.25 12 -0.85\\ 2.5 12 -0.85\\ 2.75 12 -0.85\\ 3 12 -0.85\\ 3.25 12 -0.85\\ 3.5 12 -0.85\\ 3.75 12 -0.8\\
0.75 24 -0.4\\ 1 24 -0.45\\ 1.25 24 -0.5\\ 1.5 24 -0.55\\ 1.75 24 -0.55\\ 2 24 -0.6\\ 2.25 24 -0.6\\ 2.5 24 -0.6\\ 2.75 24 -0.65\\ 3 24 -0.65\\ 3.25 24 -0.7\\ 3.5 24 -0.7\\ 3.75 24 -0.65\\
0.75 36 -0.35\\ 1 36 -0.35\\ 1.25 36 -0.4\\ 1.5 36 -0.4\\ 1.75 36 -0.4\\ 2 36 -0.45\\ 2.25 36 -0.45\\ 2.5 36 -0.45\\ 2.75 36 -0.45\\ 3 36 -0.45\\ 3.25 36 -0.45\\ 3.5 36 -0.45\\ 3.75 36 -0.45\\
0.75 48 -0.25\\ 1 48 -0.25\\ 1.25 48 -0.25\\ 1.5 48 -0.25\\ 1.75 48 -0.2\\ 2 48 -0.2\\ 2.25 48 -0.25\\ 2.5 48 -0.3\\ 2.75 48 -0.3\\ 3 48 -0.4\\ 3.25 48 -0.4\\ 3.5 48 -0.4\\ 3.75 48 -0.4\\
0.75 60 -0.15\\ 1 60 -0.15\\ 1.25 60 -0.15\\ 1.5 60 -0.2\\ 1.75 60 -0.2\\ 2 60 -0.2\\ 2.25 60 -0.15\\ 2.5 60 -0.15\\ 2.75 60 -0.15\\ 3 60 -0.2\\ 3.25 60 -0.25\\ 3.5 60 -0.25\\ 3.75 60 -0.25\\
0.75 72 0.05\\ 1 72 0.05\\ 1.25 72 0.05\\ 1.5 72 0.05\\ 1.75 72 0.05\\ 2 72 0.0\\ 2.25 72 0.0\\ 2.5 72 0.0\\ 2.75 72 0.0\\ 3 72 0.0\\ 3.25 72 0.0\\ 3.5 72 0.0\\ 3.75 72 0.0\\
0.75 84 0.25\\ 1 84 0.25\\ 1.25 84 0.2\\ 1.5 84 0.2\\ 1.75 84 0.25\\ 2 84 0.25\\ 2.25 84 0.25\\ 2.5 84 0.25\\ 2.75 84 0.25\\ 3 84 0.25\\ 3.25 84 0.2\\ 3.5 84 0.1\\ 3.75 84 0.05\\
0.75 96 0.35\\ 1 96 0.35\\ 1.25 96 0.35\\ 1.5 96 0.4\\ 1.75 96 0.45\\ 2 96 0.45\\ 2.25 96 0.5\\ 2.5 96 0.5\\ 2.75 96 0.5\\ 3 96 0.5\\ 3.25 96 0.5\\ 3.5 96 0.4\\ 3.75 96 0.4\\
0.75 108 0.5\\ 1 108 0.5\\ 1.25 108 0.5\\ 1.5 108 0.55\\ 1.75 108 0.6\\ 2 108 0.65\\ 2.25 108 0.65\\ 2.5 108 0.65\\ 2.75 108 0.7\\ 3 108 0.7\\ 3.25 108 0.75\\ 3.5 108 0.8\\ 3.75 108 0.85\\
0.75 120 0.75\\ 1 120 0.85\\ 1.25 120 0.9\\ 1.5 120 0.95\\ 1.75 120 0.95\\ 2 120 1.0\\ 2.25 120 1.1\\ 2.5 120 1.15\\ 2.75 120 1.2\\ 3 120 1.25\\ 3.25 120 1.25\\ 3.5 120 1.3\\ 3.75 120 1.3\\
0.75 132 1.0\\ 1 132 1.15\\ 1.25 132 1.2\\ 1.5 132 1.3\\ 1.75 132 1.35\\ 2 132 1.4\\ 2.25 132 1.45\\ 2.5 132 1.55\\ 2.75 132 1.55\\ 3 132 1.6\\ 3.25 132 1.6\\ 3.5 132 1.6\\ 3.75 132 1.6\\
0.75 144 1.05\\ 1 144 1.15\\ 1.25 144 1.25\\ 1.5 144 1.35\\ 1.75 144 1.45\\ 2 144 1.5\\ 2.25 144 1.55\\ 2.5 144 1.6\\ 2.75 144 1.65\\ 3 144 1.75\\ 3.25 144 1.8\\ 3.5 144 1.8\\ 3.75 144 1.75\\
}\tJ
\begin{document}
\begin{tikzpicture}
\useasboundingbox (0,0) rectangle (628bp,1615bp);
% row 1
\begin{axis}[sif, at={(39bp,1414bp)}]
\addplot[hmp] table[meta=c] {\tA};
\end{axis}
\begin{axis}[res, at={(371bp,1428bp)}]
\addplot[hmp] table[meta=c] {\tB};
\end{axis}
% row 2
\begin{axis}[sif, at={(39bp,1121bp)}]
\addplot[hmp] table[meta=c] {\tC};
\end{axis}
\begin{axis}[res, at={(371bp,1121bp)}]
\addplot[hmp] table[meta=c] {\tD};
\end{axis}
% row 3
\begin{axis}[sif, at={(39bp,803bp)}]
\addplot[hmp] table[meta=c] {\tE};
\end{axis}
\begin{axis}[res, at={(371bp,803bp)}]
\addplot[hmp] table[meta=c] {\tF};
\end{axis}
% row 4
\begin{axis}[sif, at={(39bp,464bp)}]
\addplot[hmp] table[meta=c] {\tG};
\end{axis}
\begin{axis}[res, at={(373bp,469bp)}]
\addplot[hmp] table[meta=c] {\tH};
\end{axis}
% row 5
\begin{axis}[sif, at={(39bp,119bp)}]
\addplot[hmp] table[meta=c] {\tI};
\end{axis}
\begin{axis}[res, at={(373bp,133bp)}]
\addplot[hmp] table[meta=c] {\tJ};
\end{axis}
% captions
\begin{scope}[every node/.style={anchor=west, inner sep=0pt}]
\node at (8bp,1356bp) {\cp{(a) SIF before refining}};
\node at (341bp,1371bp) {\cp{\makebox[96pt][s]{(b) Residual before}}};
\node at (341bp,1341bp) {\cp{refining}};
\node at (8bp,1050bp) {\cp{(c) SIF after 100 global}};
\node at (8bp,1019bp) {\cp{refine points}};
\node at (341bp,1050bp) {\cp{\makebox[102.3pt][s]{(d) Residual after 100}}};
\node at (341bp,1019bp) {\cp{global refine points}};
\node at (8bp,738bp) {\cp{(e) SIF after 200 global}};
\node at (8bp,707bp) {\cp{refine points}};
\node at (341bp,738bp) {\cp{\makebox[102.3pt][s]{(f) Residual after 200}}};
\node at (341bp,707bp) {\cp{global refine points}};
\node at (8bp,392bp) {\cp{(g) SIF after 100 local}};
\node at (8bp,361bp) {\cp{refine points (VM)}};
\node at (355bp,389bp) {\cp{(h) Residual after 100}};
\node at (355bp,358bp) {\cp{local refine points (VM)}};
\node at (8bp,67bp) {\cp{\makebox[101pt][s]{(i) SIF after 100 local}}};
\node at (8bp,36bp) {\cp{refine points (Voronoi)}};
\node at (341bp,89bp) {\cp{\makebox[102.3pt][s]{(j) Residual after 100}}};
\node at (341bp,58bp) {\cp{\makebox[95.8pt][s]{local refine points}}};
\node at (341bp,26bp) {\cp{(Voronoi)}};
\end{scope}
\end{tikzpicture}
\end{document}
